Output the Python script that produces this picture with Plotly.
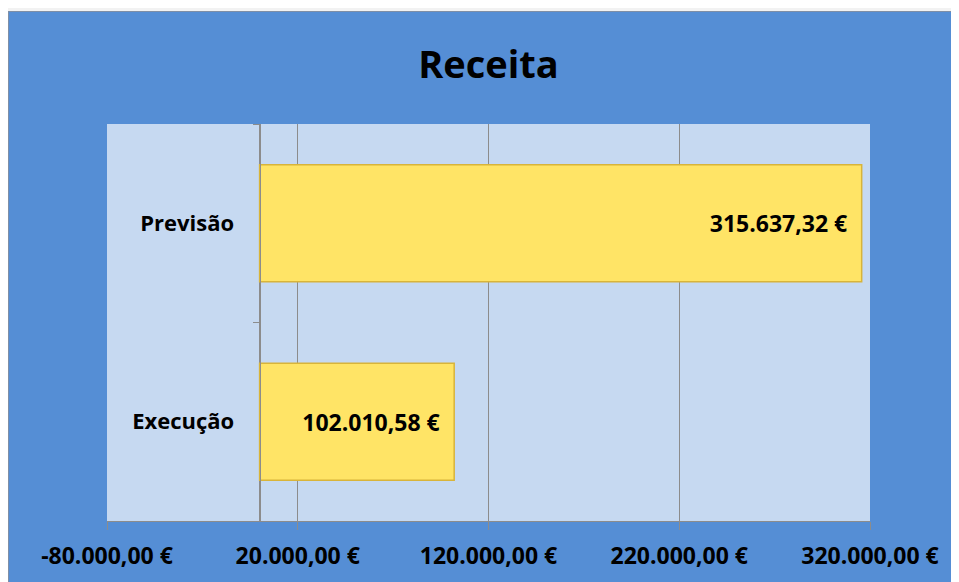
import plotly.graph_objects as go

categories = ["Execução", "Previsão"]
values = [102010.58, 315637.32]
value_labels = ["102.010,58 €", "315.637,32 €"]
tick_vals = [-80000, 20000, 120000, 220000, 320000]
tick_text = ["-80.000,00 €", "20.000,00 €", "120.000,00 €", "220.000,00 €", "320.000,00 €"]

FONT = "'Open Sans', Carlito, sans-serif"
BLUE = "#558ED5"
GRID = "#8C8C8C"

fig = go.Figure()
fig.add_trace(go.Bar(
    y=categories, x=values, orientation="h",
    text=[t + "\u2002" for t in value_labels],
    textposition="inside", insidetextanchor="end",
    textfont=dict(family=FONT, size=23, color="black", weight="bold"),
    marker=dict(color="#FFE466", line=dict(color="#D8B43A", width=1.5)),
    width=0.59, hoverinfo="skip",
))

# page body has an 8px margin, so the figure starts at (8, 8) in the window
W, H = 951, 574
L, R, T, B = 99, 89, 116, 61
pw, ph = W - L - R, H - T - B

fig.update_layout(
    width=W, height=H,
    margin=dict(l=L, r=R, t=T, b=B, pad=0),
    paper_bgcolor=BLUE,
    plot_bgcolor="#C6D9F1",
    showlegend=False,
    title=dict(text="<b>Receita</b>", x=0.5, xref="paper", xanchor="center",
               y=1 - 57 / H, yref="container", yanchor="middle",
               font=dict(family=FONT, size=38, color="black")),
    xaxis=dict(range=[-80000, 320000], tickvals=tick_vals, ticktext=tick_text,
               showgrid=True, gridcolor=GRID, gridwidth=1,
               zeroline=True, zerolinecolor=GRID, zerolinewidth=1,
               showline=True, linecolor=GRID, linewidth=1,
               ticks="outside", ticklen=8, tickcolor=GRID,
               ticklabelstandoff=6,
               tickfont=dict(family=FONT, size=23, color="black", weight="bold"),
               fixedrange=True),
    yaxis=dict(anchor="free", position=(251.6 - L) / pw,
               showline=True, linecolor=GRID, linewidth=1,
               ticks="outside", tickson="boundaries", ticklen=7, tickcolor=GRID,
               ticklabelstandoff=21, showgrid=False,
               tickfont=dict(family=FONT, size=22, color="black", weight="bold"),
               fixedrange=True),
)

# light page strip and border line along the top of the chart box
fig.add_shape(type="rect", xref="paper", yref="paper",
              x0=-L / pw - 0.01, x1=1 + R / pw + 0.01,
              y0=1 + (T - 3) / ph, y1=1 + T / ph + 0.01,
              fillcolor="#F2F2F2", line_width=0, layer="above")
fig.add_shape(type="line", xref="paper", yref="paper",
              x0=-L / pw, x1=1 + R / pw + 0.01,
              y0=1 + (T - 3.5) / ph, y1=1 + (T - 3.5) / ph,
              line=dict(color="#7F8FA6", width=1), layer="above")
fig.add_shape(type="line", xref="paper", yref="paper",
              x0=-(L - 0.5) / pw, x1=-(L - 0.5) / pw,
              y0=-B / ph - 0.01, y1=1 + (T - 3.5) / ph,
              line=dict(color="#7F8FA6", width=1), layer="above")

fig.write_html("out.html")
